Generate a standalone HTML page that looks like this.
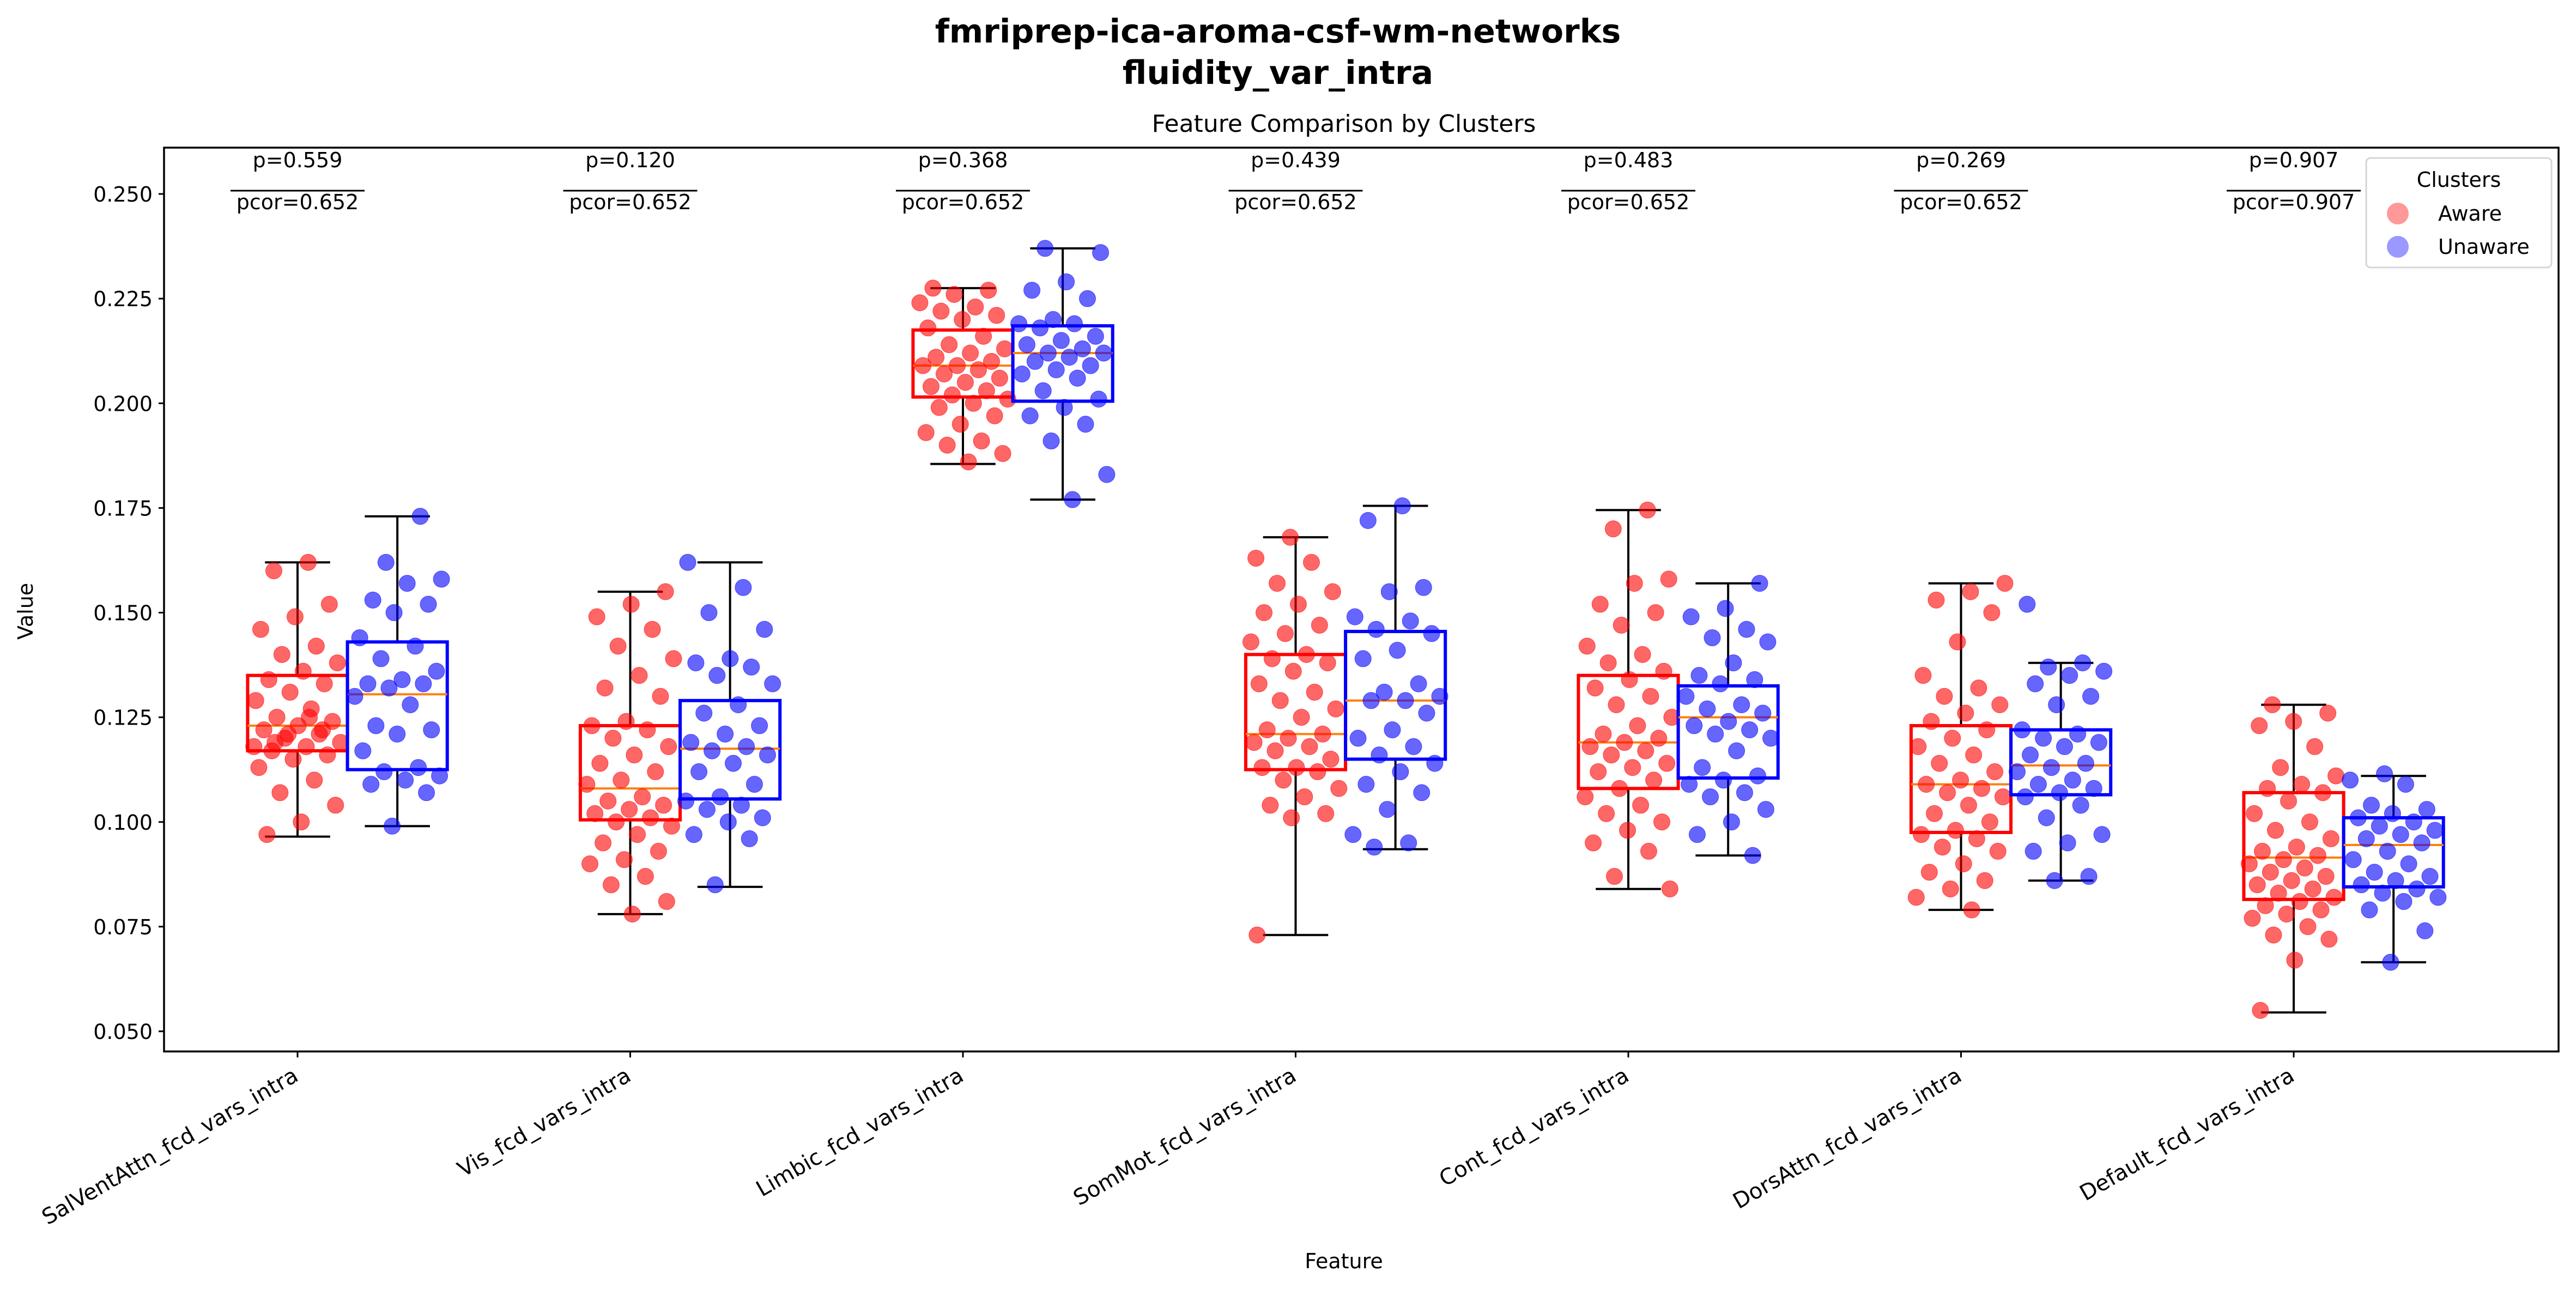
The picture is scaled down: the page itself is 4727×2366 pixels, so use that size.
<!DOCTYPE html>
<html><head><meta charset="utf-8">
<style>
html,body{margin:0;padding:0;background:#fff;}
svg{display:block;font-family:"DejaVu Sans","Liberation Sans",sans-serif;}
</style></head>
<body>
<svg id="chart" width="4727" height="2366" viewBox="0 0 4727 2366" xmlns="http://www.w3.org/2000/svg">
<rect width="4727" height="2366" fill="#fff"/>
<text x="2345" y="78" font-size="60" font-weight="bold" text-anchor="middle">fmriprep-ica-aroma-csf-wm-networks</text>
<text x="2345" y="154" font-size="60" font-weight="bold" text-anchor="middle">fluidity_var_intra</text>
<text x="2466" y="242" font-size="44" text-anchor="middle">Feature Comparison by Clusters</text>
<text x="0" y="0" font-size="38" text-anchor="middle" transform="translate(60,1122) rotate(-90)">Value</text>
<text x="2466" y="2328" font-size="38" text-anchor="middle">Feature</text>
<g id="plot"></g>
<rect x="301" y="271" width="4394" height="1659" fill="none" stroke="#000" stroke-width="3.5"/>
<g>
<rect x="4342" y="290" width="340" height="201" rx="8" fill="#fff" fill-opacity="0.8" stroke="#d6d6d6" stroke-width="3"/>
<text x="4512" y="343" font-size="38" text-anchor="middle">Clusters</text>
<circle cx="4400" cy="392" r="20" fill="#ff0000" fill-opacity="0.4"/>
<text x="4474" y="405" font-size="38">Aware</text>
<circle cx="4400" cy="453" r="20" fill="#0000ff" fill-opacity="0.4"/>
<text x="4474" y="466" font-size="38">Unaware</text>
</g>
</svg>
<script>
const categories=["SalVentAttn_fcd_vars_intra","Vis_fcd_vars_intra","Limbic_fcd_vars_intra","SomMot_fcd_vars_intra","Cont_fcd_vars_intra","DorsAttn_fcd_vars_intra","Default_fcd_vars_intra"];
const pLabels=["p=0.559","p=0.120","p=0.368","p=0.439","p=0.483","p=0.269","p=0.907"];
const pcorLabels=["pcor=0.652","pcor=0.652","pcor=0.652","pcor=0.652","pcor=0.652","pcor=0.652","pcor=0.907"];
const yTicks=[0.05,0.075,0.1,0.125,0.15,0.175,0.2,0.225,0.25];
const yTickLabels=["0.050","0.075","0.100","0.125","0.150","0.175","0.200","0.225","0.250"];
// box stats: [whislo, q1, median, q3, whishi]
const awareBoxes=[[0.0965,0.117,0.123,0.135,0.162],[0.078,0.1005,0.108,0.123,0.155],[0.1855,0.2015,0.209,0.2175,0.2275],[0.073,0.1125,0.121,0.140,0.168],[0.084,0.108,0.119,0.135,0.1745],[0.079,0.0975,0.109,0.123,0.157],[0.0545,0.0815,0.0915,0.107,0.128]];
const unawareBoxes=[[0.099,0.1125,0.1305,0.143,0.173],[0.0845,0.1055,0.1175,0.129,0.162],[0.177,0.2005,0.212,0.2185,0.237],[0.0935,0.115,0.129,0.1455,0.1755],[0.092,0.1105,0.125,0.1325,0.157],[0.086,0.1065,0.1135,0.122,0.138],[0.0665,0.0845,0.0945,0.101,0.111]];
const awarePoints=[
[0.162,0.160,0.152,0.149,0.146,0.142,0.140,0.138,0.136,0.134,0.133,0.131,0.129,0.127,0.125,0.124,0.123,0.122,0.121,0.120,0.119,0.118,0.117,0.116,0.115,0.113,0.110,0.107,0.104,0.100,0.097,0.122,0.121,0.118,0.125,0.119],
[0.155,0.152,0.149,0.146,0.142,0.139,0.135,0.132,0.130,0.124,0.123,0.122,0.120,0.118,0.116,0.114,0.112,0.110,0.109,0.106,0.105,0.104,0.103,0.102,0.101,0.100,0.099,0.097,0.095,0.093,0.091,0.090,0.087,0.085,0.081,0.078],
[0.2275,0.227,0.226,0.224,0.223,0.222,0.221,0.220,0.218,0.216,0.214,0.213,0.212,0.211,0.210,0.209,0.209,0.208,0.207,0.206,0.205,0.204,0.203,0.202,0.201,0.200,0.199,0.197,0.195,0.193,0.191,0.190,0.188,0.186],
[0.168,0.163,0.162,0.157,0.155,0.152,0.150,0.147,0.145,0.143,0.140,0.139,0.138,0.136,0.133,0.131,0.129,0.127,0.125,0.122,0.121,0.120,0.119,0.118,0.117,0.115,0.113,0.113,0.112,0.110,0.108,0.106,0.104,0.102,0.101,0.073],
[0.1745,0.170,0.158,0.157,0.152,0.150,0.147,0.142,0.140,0.138,0.136,0.134,0.132,0.130,0.128,0.125,0.123,0.121,0.120,0.119,0.118,0.117,0.116,0.114,0.113,0.112,0.110,0.108,0.106,0.104,0.102,0.100,0.098,0.095,0.093,0.087,0.084],
[0.157,0.155,0.153,0.150,0.143,0.135,0.132,0.130,0.128,0.126,0.124,0.122,0.120,0.118,0.116,0.114,0.112,0.110,0.109,0.108,0.107,0.106,0.104,0.102,0.100,0.098,0.097,0.096,0.094,0.093,0.090,0.088,0.086,0.084,0.082,0.079],
[0.128,0.126,0.124,0.123,0.118,0.113,0.111,0.109,0.108,0.107,0.105,0.102,0.100,0.098,0.096,0.094,0.093,0.092,0.091,0.090,0.089,0.088,0.087,0.086,0.085,0.084,0.083,0.082,0.081,0.080,0.079,0.078,0.077,0.075,0.073,0.072,0.067,0.055]];
const unawarePoints=[
[0.173,0.162,0.158,0.157,0.153,0.152,0.150,0.144,0.142,0.139,0.136,0.134,0.133,0.133,0.132,0.130,0.128,0.123,0.122,0.121,0.117,0.113,0.112,0.111,0.110,0.109,0.107,0.099],
[0.162,0.156,0.150,0.146,0.139,0.138,0.137,0.135,0.133,0.128,0.126,0.123,0.121,0.119,0.118,0.117,0.116,0.114,0.112,0.109,0.106,0.105,0.104,0.103,0.101,0.100,0.097,0.096,0.085],
[0.237,0.236,0.229,0.227,0.225,0.220,0.219,0.219,0.218,0.216,0.215,0.214,0.213,0.212,0.212,0.211,0.210,0.209,0.208,0.207,0.206,0.203,0.201,0.199,0.197,0.195,0.191,0.183,0.177],
[0.1755,0.172,0.156,0.155,0.149,0.148,0.146,0.145,0.141,0.139,0.133,0.131,0.130,0.129,0.129,0.126,0.122,0.120,0.118,0.116,0.114,0.112,0.109,0.107,0.103,0.097,0.095,0.094],
[0.157,0.151,0.149,0.146,0.144,0.143,0.138,0.135,0.134,0.133,0.130,0.128,0.127,0.126,0.124,0.123,0.122,0.121,0.120,0.117,0.113,0.111,0.110,0.109,0.107,0.106,0.103,0.100,0.097,0.092],
[0.152,0.138,0.137,0.136,0.135,0.133,0.130,0.128,0.122,0.121,0.120,0.119,0.118,0.116,0.114,0.113,0.112,0.110,0.109,0.108,0.107,0.106,0.104,0.101,0.097,0.095,0.093,0.087,0.086],
[0.1115,0.110,0.109,0.104,0.103,0.102,0.101,0.100,0.099,0.098,0.097,0.096,0.095,0.093,0.091,0.090,0.088,0.087,0.086,0.085,0.084,0.083,0.082,0.081,0.079,0.074,0.0665]];

const NS="http://www.w3.org/2000/svg";
const plot=document.getElementById('plot');
const X0=546, XS=610.5;
function xScale(c){return X0+c*XS;}
function yScale(v){return 356+(0.25-v)*7685;}
function mk(tag,attrs){const e=document.createElementNS(NS,tag);for(const k in attrs)e.setAttribute(k,attrs[k]);plot.appendChild(e);return e;}

yTicks.forEach((t,i)=>{
  const y=yScale(t);
  const tk=mk('line',{x1:291,x2:301,y1:y,y2:y,stroke:'#000','stroke-width':3});
  
  
  const lb=mk('text',{x:280,y:y+14,'font-size':38,'text-anchor':'end'});
  lb.textContent=yTickLabels[i];
  
  
});

function drawGroup(stats,pts,center,color,gi,name){
  const w=0.3*XS, cx=xScale(center);
  const [lo,q1,md,q3,hi]=stats;
  const cap=0.15*XS;
  const wl=mk('line',{x1:cx,x2:cx,y1:yScale(q1),y2:yScale(lo),stroke:'#000','stroke-width':4});
  
  
  const wh=mk('line',{x1:cx,x2:cx,y1:yScale(q3),y2:yScale(hi),stroke:'#000','stroke-width':4});
  
  
  [lo,hi].forEach(v=>{
    const c=mk('line',{x1:cx-cap/2-14,x2:cx+cap/2+14,y1:yScale(v),y2:yScale(v),stroke:'#000','stroke-width':4});
    
    
  });
  const b=mk('rect',{x:cx-w/2,y:yScale(q3),width:w,height:yScale(q1)-yScale(q3),fill:'none',stroke:color,'stroke-width':6});
  
  
  const m=mk('line',{x1:cx-w/2,x2:cx+w/2,y1:yScale(md),y2:yScale(md),stroke:'#ff7f0e','stroke-width':4});
  
  
  pts.forEach((v,k)=>{
    const f=((k+1)*0.618034+gi*0.137)%1;
    const jx=(f-0.5)*0.27;
    const p=mk('circle',{cx:xScale(center+jx),cy:yScale(v),r:15,fill:color,'fill-opacity':0.6,stroke:color,'stroke-opacity':0.6,'stroke-width':1});
    
    
  });
}

categories.forEach((cat,i)=>{
  drawGroup(awareBoxes[i],awarePoints[i],i,'#ff0000',i*2,'aware-'+i);
  drawGroup(unawareBoxes[i],unawarePoints[i],i+0.3,'#0000ff',i*2+1,'unaware-'+i);
  const tx=xScale(i);
  const tk=mk('line',{x1:tx,x2:tx,y1:1930,y2:1941,stroke:'#000','stroke-width':3});
  
  
  const lb=mk('text',{x:0,y:0,'font-size':40,'text-anchor':'end',transform:'translate('+(tx+4)+',1982) rotate(-30)'});
  lb.textContent=cat;
  
  
  const pt=mk('text',{x:tx,y:307,'font-size':38,'text-anchor':'middle'});
  pt.textContent=pLabels[i];
  
  
  const ln=mk('line',{x1:tx-123,x2:tx+123,y1:350,y2:350,stroke:'#000','stroke-width':3});
  
  
  const pc=mk('text',{x:tx,y:384,'font-size':38,'text-anchor':'middle'});
  pc.textContent=pcorLabels[i];
  
  
});
</script>
</body></html>
